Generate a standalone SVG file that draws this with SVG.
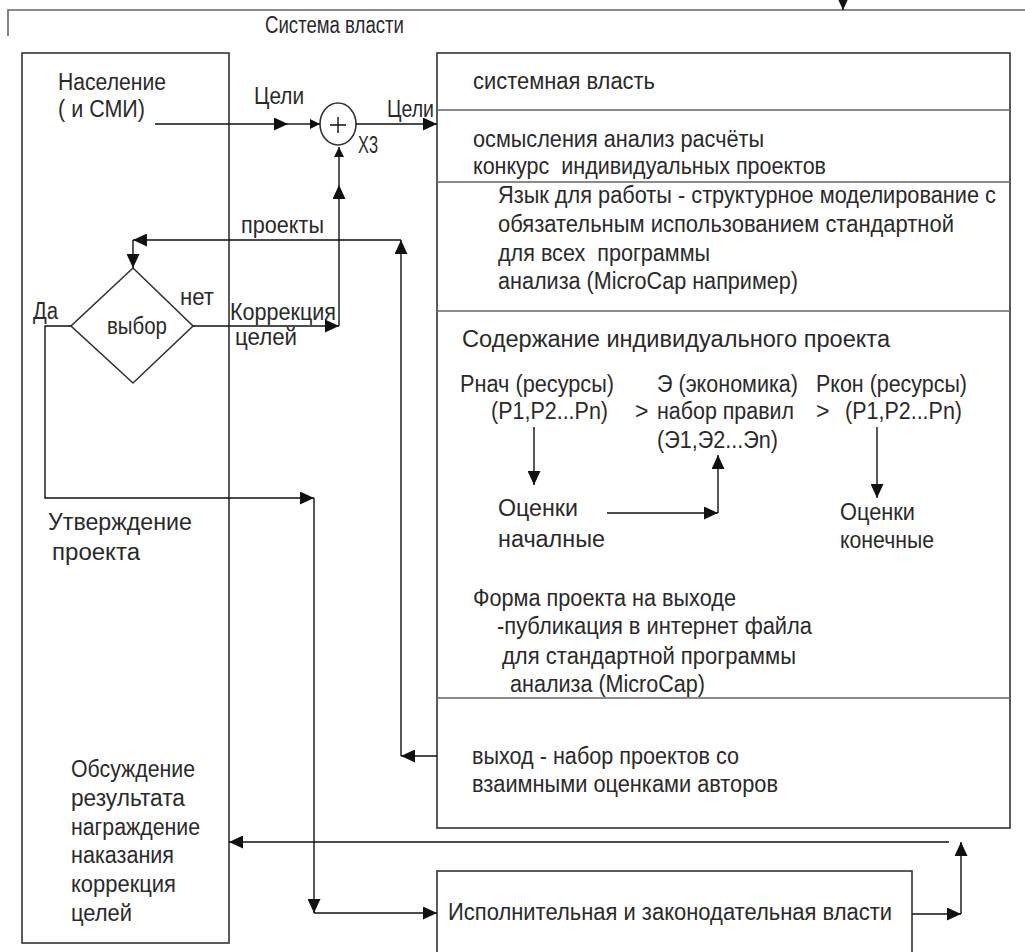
<svg xmlns="http://www.w3.org/2000/svg" width="1025" height="952" viewBox="0 0 1025 952">
<defs>
<style>
text{font-family:"Liberation Sans",Arial,sans-serif;font-size:23px;fill:#2a2a2a;}
.box{fill:none;stroke:#333;stroke-width:1.6;}
.div{fill:none;stroke:#666;stroke-width:1.6;}
.ln{fill:none;stroke:#111;stroke-width:1.4;}
.ar{fill:none;stroke:#111;stroke-width:1.4;marker-end:url(#ah);}
.ars{fill:none;stroke:#111;stroke-width:1.4;marker-end:url(#ahs);}
</style>
<marker id="ah" markerUnits="userSpaceOnUse" markerWidth="15" markerHeight="13" refX="14" refY="6.5" orient="auto">
<path d="M0,0 L14,6.5 L0,13 z" fill="#111"/>
</marker>
<marker id="ahs" markerUnits="userSpaceOnUse" markerWidth="11" markerHeight="10" refX="10" refY="5" orient="auto">
<path d="M0,0 L10,5 L0,10 z" fill="#111"/>
</marker>
</defs>
<rect width="1025" height="952" fill="#fff"/>

<g id="frame">
<path class="div" d="M8,36 L8,10 L1025,10"/>
<text x="265" y="33" font-size="20" textLength="139" lengthAdjust="spacingAndGlyphs">Система власти</text>
</g>

<g id="population">
<rect class="box" x="22" y="53" width="207" height="890"/>
<text x="58" y="90" textLength="108" lengthAdjust="spacingAndGlyphs">Население</text>
<text x="58" y="117" textLength="87" lengthAdjust="spacingAndGlyphs">( и СМИ)</text>
<text x="48" y="530" textLength="144" lengthAdjust="spacingAndGlyphs">Утверждение</text>
<text x="52" y="560" textLength="88" lengthAdjust="spacingAndGlyphs">проекта</text>
<text x="71" y="777" textLength="124" lengthAdjust="spacingAndGlyphs">Обсуждение</text>
<text x="71" y="806" textLength="114" lengthAdjust="spacingAndGlyphs">результата</text>
<text x="71" y="835" textLength="129" lengthAdjust="spacingAndGlyphs">награждение</text>
<text x="71" y="863" textLength="103" lengthAdjust="spacingAndGlyphs">наказания</text>
<text x="71" y="892" textLength="105" lengthAdjust="spacingAndGlyphs">коррекция</text>
<text x="71" y="921" textLength="61" lengthAdjust="spacingAndGlyphs">целей</text>
</g>

<g id="choice">
<polygon class="box" points="133,268 193,326 133,383 71,326"/>
<text x="107" y="334" textLength="60" lengthAdjust="spacingAndGlyphs">выбор</text>
</g>

<g id="sum">
<ellipse class="box" cx="338" cy="124" rx="18" ry="21"/>
<path class="ln" d="M330,125 L346,125 M338,117 L338,133"/>
<text x="358" y="153" font-size="16" fill="#555" textLength="20" lengthAdjust="spacingAndGlyphs">X3</text>
</g>

<g id="system">
<rect class="box" x="437" y="53" width="573" height="775"/>
<path class="div" d="M437,110 L1010,110 M437,182 L1010,182 M437,311 L1010,311 M437,698 L1010,698"/>
<text x="473" y="89" textLength="182" lengthAdjust="spacingAndGlyphs">системная власть</text>
<text x="473" y="147" textLength="291" lengthAdjust="spacingAndGlyphs">осмысления анализ расчёты</text>
<text x="473" y="174" xml:space="preserve" textLength="353" lengthAdjust="spacingAndGlyphs">конкурс  индивидуальных проектов</text>
<text x="498" y="203" textLength="498" lengthAdjust="spacingAndGlyphs">Язык для работы - структурное моделирование с</text>
<text x="498" y="232" textLength="456" lengthAdjust="spacingAndGlyphs">обязательным использованием стандартной</text>
<text x="498" y="261" xml:space="preserve" textLength="212" lengthAdjust="spacingAndGlyphs">для всех  программы</text>
<text x="498" y="289" textLength="300" lengthAdjust="spacingAndGlyphs">анализа (MicroCap например)</text>
<text x="462" y="347" font-size="26" textLength="428" lengthAdjust="spacingAndGlyphs">Содержание индивидуального проекта</text>
<text x="460" y="392" textLength="154" lengthAdjust="spacingAndGlyphs">Рнач (ресурсы)</text>
<text x="491" y="419" textLength="117" lengthAdjust="spacingAndGlyphs">(P1,P2...Pn)</text>
<text x="635" y="419" font-size="21">&gt;</text>
<text x="657" y="392" textLength="141" lengthAdjust="spacingAndGlyphs">Э (экономика)</text>
<text x="657" y="419" textLength="137" lengthAdjust="spacingAndGlyphs">набор правил</text>
<text x="657" y="448" textLength="121" lengthAdjust="spacingAndGlyphs">(Э1,Э2...Эn)</text>
<text x="816" y="392" textLength="151" lengthAdjust="spacingAndGlyphs">Ркон (ресурсы)</text>
<text x="816" y="419" font-size="21">&gt;</text>
<text x="845" y="419" textLength="117" lengthAdjust="spacingAndGlyphs">(P1,P2...Pn)</text>
<text x="498" y="516" textLength="80" lengthAdjust="spacingAndGlyphs">Оценки</text>
<text x="498" y="547" textLength="107" lengthAdjust="spacingAndGlyphs">началные</text>
<text x="840" y="520" textLength="75" lengthAdjust="spacingAndGlyphs">Оценки</text>
<text x="840" y="548" textLength="94" lengthAdjust="spacingAndGlyphs">конечные</text>
<text x="473" y="606" textLength="263" lengthAdjust="spacingAndGlyphs">Форма проекта на выходе</text>
<text x="497" y="634" textLength="315" lengthAdjust="spacingAndGlyphs">-публикация в интернет файла</text>
<text x="502" y="664" textLength="294" lengthAdjust="spacingAndGlyphs">для стандартной программы</text>
<text x="510" y="692" textLength="195" lengthAdjust="spacingAndGlyphs">анализа (MicroCap)</text>
<text x="472" y="764" textLength="267" lengthAdjust="spacingAndGlyphs">выход - набор проектов со</text>
<text x="472" y="792" textLength="306" lengthAdjust="spacingAndGlyphs">взаимными оценками авторов</text>
</g>

<g id="executive">
<rect class="box" x="437" y="871" width="475" height="95"/>
<text x="448" y="920" textLength="444" lengthAdjust="spacingAndGlyphs">Исполнительная и законодательная власти</text>
</g>

<g id="connectors">
<line class="ar" x1="843" y1="-6" x2="843" y2="10"/>
<line class="ar" x1="155" y1="124" x2="288" y2="124"/>
<line class="ars" x1="288" y1="124" x2="320" y2="124"/>
<line class="ar" x1="356" y1="124" x2="437" y2="124"/>
<text x="254" y="104" textLength="50" lengthAdjust="spacingAndGlyphs">Цели</text>
<text x="387" y="117" textLength="47" lengthAdjust="spacingAndGlyphs">Цели</text>
<line class="ar" x1="193" y1="326" x2="339" y2="326"/>
<line class="ar" x1="339" y1="326" x2="339" y2="185"/>
<line class="ars" x1="339" y1="185" x2="339" y2="147"/>
<text x="180" y="305" textLength="34" lengthAdjust="spacingAndGlyphs">нет</text>
<text x="230" y="320" textLength="106" lengthAdjust="spacingAndGlyphs">Коррекция</text>
<text x="235" y="345" textLength="62" lengthAdjust="spacingAndGlyphs">целей</text>
<line class="ar" x1="437" y1="756" x2="401" y2="756"/>
<line class="ar" x1="401" y1="756" x2="401" y2="240"/>
<line class="ar" x1="401" y1="240" x2="133" y2="240"/>
<line class="ar" x1="133" y1="240" x2="133" y2="268"/>
<text x="241" y="233" textLength="83" lengthAdjust="spacingAndGlyphs">проекты</text>
<path class="ar" d="M71,326 L45,326 L45,498 L314,498"/>
<line class="ar" x1="314" y1="498" x2="314" y2="913"/>
<line class="ar" x1="314" y1="913" x2="437" y2="913"/>
<text x="33" y="319" textLength="25" lengthAdjust="spacingAndGlyphs">Да</text>
<line class="ar" x1="912" y1="914" x2="961" y2="914"/>
<line class="ar" x1="961" y1="914" x2="961" y2="842"/>
<line class="ar" x1="949" y1="842" x2="229" y2="842"/>
<line class="ar" x1="534" y1="427" x2="534" y2="485"/>
<line class="ar" x1="607" y1="513" x2="718" y2="513"/>
<line class="ar" x1="718" y1="513" x2="718" y2="455"/>
<line class="ar" x1="877" y1="427" x2="877" y2="498"/>
</g>
</svg>
